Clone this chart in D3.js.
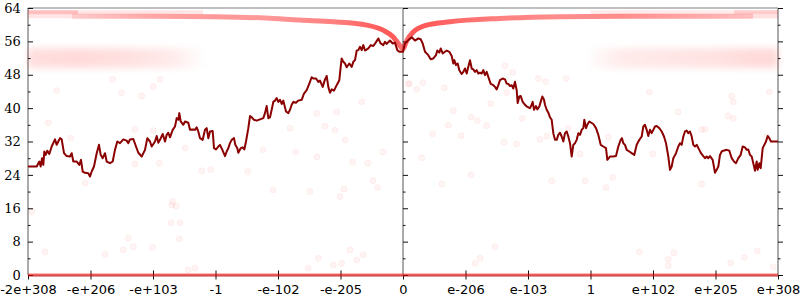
<!DOCTYPE html>
<html>
<head>
<meta charset="utf-8">
<script src="https://cdn.jsdelivr.net/npm/d3@7"></script>
<style>
  body { margin: 0; background: #fff; }
  svg { display: block; }
</style>
</head>
<body>
<svg id="chart"></svg>
<script>
// x values are positions along the ordered float64 bit-pattern axis,
// in sixths of its half range: -6 = -max double, 0 = zero, 6 = +max double
const xTicks = [-6, -5, -4, -3, -2, -1, 0, 1, 2, 3, 4, 5, 6]
const xTickLabels = ['-2e+308', '-e+206', '-e+103', '-1', '-e-102', '-e-205', '0',
  'e-206', 'e-103', '1', 'e+102', 'e+205', 'e+308']
const yTicks = [0, 8, 16, 24, 32, 40, 48, 56, 64]
const yMinorTicks = [4, 12, 20, 28, 36, 44, 52, 60]

// dark red walk
const walkX = [-6.000, -5.861, -5.819, -5.797, -5.776, -5.755, -5.739, -5.717, -5.691, -5.659,
  -5.621, -5.568, -5.541, -5.515, -5.488, -5.461, -5.424, -5.381, -5.328, -5.301,
  -5.275, -5.221, -5.179, -5.152, -5.125, -5.088, -5.035, -5.008, -4.981, -4.944,
  -4.901, -4.864, -4.837, -4.805, -4.768, -4.741, -4.688, -4.645, -4.608, -4.571,
  -4.528, -4.475, -4.421, -4.395, -4.368, -4.315, -4.272, -4.235, -4.181, -4.128,
  -4.091, -4.048, -4.021, -3.968, -3.941, -3.915, -3.888, -3.845, -3.808, -3.781,
  -3.755, -3.728, -3.685, -3.648, -3.621, -3.595, -3.579, -3.557, -3.515, -3.488,
  -3.435, -3.408, -3.365, -3.328, -3.301, -3.275, -3.248, -3.205, -3.168, -3.141,
  -3.115, -3.088, -3.045, -3.024, -2.992, -2.955, -2.928, -2.885, -2.848, -2.821,
  -2.795, -2.768, -2.741, -2.704, -2.683, -2.651, -2.635, -2.597, -2.565, -2.539,
  -2.512, -2.475, -2.448, -2.421, -2.384, -2.341, -2.288, -2.235, -2.208, -2.181,
  -2.155, -2.128, -2.101, -2.075, -2.048, -2.021, -1.995, -1.968, -1.941, -1.915,
  -1.872, -1.835, -1.808, -1.781, -1.755, -1.712, -1.675, -1.621, -1.584, -1.541,
  -1.499, -1.461, -1.435, -1.392, -1.355, -1.328, -1.285, -1.248, -1.221, -1.195,
  -1.168, -1.141, -1.104, -1.061, -1.019, -0.997, -0.981, -0.955, -0.928, -0.901,
  -0.859, -0.821, -0.795, -0.768, -0.741, -0.715, -0.688, -0.661, -0.635, -0.608,
  -0.555, -0.517, -0.475, -0.437, -0.395, -0.357, -0.315, -0.288, -0.261, -0.208,
  -0.165, -0.128, -0.091, -0.059, 0.000, 0.032, 0.085, 0.139, 0.192, 0.245,
  0.283, 0.315, 0.352, 0.405, 0.443, 0.485, 0.528, 0.549, 0.581, 0.603,
  0.635, 0.672, 0.699, 0.741, 0.779, 0.805, 0.821, 0.848, 0.875, 0.901,
  0.939, 0.965, 0.992, 1.019, 1.045, 1.072, 1.099, 1.125, 1.152, 1.179,
  1.205, 1.232, 1.259, 1.285, 1.312, 1.339, 1.365, 1.403, 1.445, 1.472,
  1.499, 1.525, 1.552, 1.595, 1.632, 1.659, 1.685, 1.712, 1.739, 1.765,
  1.792, 1.819, 1.835, 1.861, 1.883, 1.915, 1.952, 1.979, 2.005, 2.032,
  2.059, 2.075, 2.096, 2.128, 2.149, 2.181, 2.203, 2.229, 2.256, 2.272,
  2.299, 2.325, 2.352, 2.379, 2.405, 2.432, 2.459, 2.485, 2.512, 2.539,
  2.565, 2.592, 2.619, 2.645, 2.672, 2.699, 2.725, 2.752, 2.779, 2.805,
  2.832, 2.859, 2.885, 2.901, 2.928, 2.949, 2.981, 3.045, 3.088, 3.125,
  3.163, 3.205, 3.248, 3.269, 3.312, 3.365, 3.408, 3.445, 3.483, 3.504,
  3.525, 3.552, 3.579, 3.621, 3.659, 3.701, 3.739, 3.781, 3.819, 3.845,
  3.872, 3.899, 3.925, 3.952, 3.979, 4.005, 4.032, 4.059, 4.101, 4.139,
  4.176, 4.208, 4.245, 4.272, 4.299, 4.325, 4.368, 4.405, 4.432, 4.459,
  4.485, 4.512, 4.539, 4.565, 4.592, 4.619, 4.645, 4.672, 4.699, 4.741,
  4.768, 4.805, 4.832, 4.859, 4.885, 4.912, 4.955, 4.992, 5.019, 5.045,
  5.072, 5.099, 5.125, 5.179, 5.221, 5.259, 5.296, 5.328, 5.365, 5.403,
  5.435, 5.472, 5.499, 5.525, 5.552, 5.579, 5.605, 5.632, 5.659, 5.675,
  5.701, 5.723, 5.755, 5.781, 5.808, 5.835, 5.861, 5.888, 5.925, 6.000]
const walkY = [26.0, 26.0, 27.2, 26.0, 28.0, 26.4, 29.6, 28.8, 29.8, 29.0,
  30.8, 32.5, 31.2, 32.0, 32.8, 32.5, 29.2, 28.5, 28.4, 29.2,
  27.2, 27.2, 26.4, 27.6, 24.8, 24.5, 24.4, 23.6, 24.8, 26.0,
  29.2, 31.2, 28.8, 28.0, 29.2, 27.2, 26.8, 27.2, 30.0, 32.0,
  31.6, 32.5, 32.2, 31.6, 32.5, 32.6, 30.8, 29.3, 28.4, 30.0,
  32.8, 32.0, 30.8, 32.0, 33.3, 31.7, 32.4, 33.8, 32.0, 33.6,
  34.1, 33.0, 34.8, 35.6, 37.6, 37.2, 38.8, 36.8, 36.0, 36.8,
  36.5, 34.8, 34.9, 34.8, 35.4, 34.4, 32.8, 32.4, 34.8, 35.2,
  32.8, 34.4, 34.5, 30.4, 30.1, 30.8, 31.2, 29.8, 28.5, 29.6,
  30.4, 31.6, 32.4, 32.8, 31.2, 30.4, 29.3, 30.4, 30.6, 30.1,
  32.0, 35.2, 38.1, 37.8, 37.2, 37.0, 37.3, 37.6, 38.8, 40.5,
  37.6, 37.8, 39.6, 41.5, 41.8, 42.4, 41.5, 42.0, 41.0, 41.8,
  39.2, 38.8, 39.6, 40.8, 41.5, 41.3, 41.8, 42.0, 43.5, 44.3,
  45.9, 47.4, 47.1, 47.1, 46.3, 46.6, 45.1, 46.9, 47.7, 45.1,
  43.7, 44.5, 44.2, 45.5, 46.7, 49.9, 51.9, 51.1, 50.7, 49.8,
  50.7, 49.9, 51.1, 51.5, 53.8, 53.9, 54.7, 53.9, 55.1, 53.8,
  54.3, 55.1, 54.9, 55.7, 56.7, 55.5, 55.1, 55.9, 55.4, 56.2,
  55.5, 55.7, 53.9, 53.5, 53.5, 55.5, 56.3, 57.0, 56.2, 56.7,
  56.5, 55.5, 53.5, 52.7, 51.7, 51.9, 52.7, 53.8, 53.3, 54.3,
  53.1, 53.5, 53.8, 53.5, 52.5, 50.7, 51.5, 50.3, 50.7, 49.1,
  48.2, 48.7, 49.5, 48.3, 49.9, 51.5, 49.5, 49.3, 48.7, 49.1,
  48.3, 48.5, 48.3, 49.1, 47.9, 48.7, 47.5, 45.8, 45.5, 45.1,
  44.5, 45.5, 46.7, 47.1, 46.9, 45.9, 45.8, 45.3, 45.5, 44.7,
  46.3, 44.3, 41.2, 42.8, 42.9, 41.5, 40.8, 40.4, 40.2, 40.0,
  40.8, 41.5, 39.6, 40.5, 39.7, 40.4, 41.5, 42.8, 42.0, 40.8,
  39.6, 38.9, 37.8, 37.2, 34.0, 32.4, 32.4, 33.6, 34.1, 33.2,
  32.0, 34.0, 34.4, 33.2, 31.6, 28.4, 31.2, 31.6, 32.4, 34.0,
  33.6, 34.8, 35.2, 37.2, 35.2, 36.0, 36.8, 36.2, 35.2, 33.6,
  31.2, 30.8, 30.4, 27.6, 28.4, 28.4, 28.5, 30.8, 32.4, 32.8,
  31.6, 31.2, 30.0, 29.6, 29.2, 28.8, 31.2, 32.4, 33.2, 35.6,
  36.0, 34.8, 33.3, 34.8, 34.0, 34.8, 35.6, 35.7, 35.2, 34.4,
  33.2, 31.6, 28.4, 25.2, 26.0, 28.0, 29.2, 30.8, 31.6, 31.2,
  33.2, 34.4, 34.6, 34.0, 34.4, 33.2, 31.2, 30.8, 31.2, 30.0,
  29.2, 28.5, 28.0, 28.4, 28.0, 28.5, 27.6, 24.5, 25.2, 26.0,
  28.8, 29.6, 29.8, 30.0, 29.8, 28.0, 27.2, 26.8, 28.0, 28.8,
  30.8, 30.6, 30.0, 30.1, 28.8, 28.4, 26.8, 25.0, 27.2, 25.2,
  26.8, 25.6, 30.4, 31.2, 32.0, 33.3, 32.8, 32.0, 32.0, 32.0]

// dense red ridge near the top, with its point density along x
const ridgeX = [-5.3, -4, -3, -2.2, -1.65, -1.12, -0.58, -0.32, -0.16, -0.08,
  -0.02, 0, 0.064, 0.16, 0.38, 0.75, 1.55, 2.5, 3.5, 5.6]
const ridgeY = [62.0, 62.0, 61.9, 61.6, 61.1, 60.7, 59.9, 58.7, 57.1, 55.6,
  54.4, 54.2, 56.3, 58.2, 59.9, 60.7, 61.5, 61.9, 62.0, 62.0]
const ridgeDensity = [0.2, 0.35, 0.4, 0.4, 0.45, 0.5, 0.6, 0.65, 0.65, 0.6,
  0.55, 0.55, 0.6, 0.65, 0.65, 0.6, 0.5, 0.45, 0.45, 0.25]

// horizontal rows of overlapping points
const rowY = [63, 63, 62, 63, 63, 62, 0]
const rowFrom = [-6, -5.2, -6, 3.0, 5.3, 5.6, -6]
const rowTo = [-5.2, -3.2, -5.3, 5.3, 6, 6, 6]
const rowDensity = [0.25, 0.1, 0.1, 0.08, 0.2, 0.12, 0.55]

// faint clouds around y = 52
const cloudY = 52
const cloudLeftX = [-6, -5.2, -4.4, -3.7, -3.2]
const cloudLeftDensity = [0.8, 0.9, 0.75, 0.5, 0.05]
const cloudRightX = [3.0, 3.5, 4.2, 5.0, 5.6, 6.0]
const cloudRightDensity = [0.1, 0.5, 0.6, 0.7, 0.9, 0.9]

// scattered single points
const dotX = [-1.381, -1.061, -0.661, -1.808, -1.088, -1.248, -0.928, -2.24, -1.717, -1.376,
  -0.325, -0.805, -0.565, -2.485, -0.48, -0.405, -0.944, -1.488, -2.08, -1.008, -3.077,
  0.085, 0.315, 0.219, 0.661, 1.632, 1.755, 2.165, 2.283, 2.608, 0.805, 1.088, 1.189,
  1.339, 0.725, 0.475, 0.928, 1.403, 1.659, 1.909, 1.616, 1.819, 2.192, 2.299, 2.645,
  2.832, 0.299, 1.088, 0.619, 2.379, 2.912, 0.101,
  -5.541, -5.675, -5.317, -4.645, -4.501, -4.288, -3.995, -4.181, -3.888, -3.995,
  -3.488, -3.899, -4.288, -3.221, -5.088,
  3.941, 4.405, 5.259, 5.285, 5.205, 5.285, 5.861, 4.779, 4.832, 3.995, 3.285, 3.355,
  4.779, 3.248, 5.819,
  -5.941, -5.728, -4.768, -4.395, -4.475, -4.315, -4.005, -3.701, -3.685, -3.632,
  -3.712, -3.568, -3.579, -3.328, -3.435,
  -1.355, -1.115, -0.981, -0.848, -0.741, -0.635, -1.515, 1.152, 1.232, 1.472,
  3.781, 4.245, 4.245, 4.336, 5.243, 5.461, 5.669, 5.925]
const dotY = [38.7, 39.1, 41.5, 35.2, 34.7, 35.7, 32.4, 30.0, 29.5, 28.3,
  29.5, 27.1, 26.8, 24.8, 22.6, 21.0, 20.6, 20.0, 20.4, 18.8, 25.3,
  45.9, 46.1, 44.5, 44.9, 50.1, 48.6, 47.1, 46.3, 47.1, 39.4, 37.8, 37.0,
  35.8, 35.9, 33.8, 33.4, 41.1, 43.7, 37.5, 31.8, 31.4, 32.5, 33.3, 35.1,
  29.0, 28.1, 24.0, 21.8, 22.6, 22.6, 45.8,
  44.2, 36.5, 32.8, 46.9, 43.7, 34.9, 34.6, 42.9, 46.9, 45.1,
  30.4, 26.8, 26.6, 25.0, 22.0,
  43.8, 39.1, 42.9, 41.5, 38.1, 37.5, 43.9, 34.9, 34.9, 29.0, 33.0, 23.4,
  21.8, 21.0, 33.1,
  15.2, 5.6, 5.0, 8.8, 6.0, 6.8, 6.6, 16.8, 17.6, 16.5,
  12.5, 12.5, 8.6, 1.6, 1.2,
  4.0, 2.4, 2.8, 6.0, 3.6, 4.8, 1.6, 2.8, 4.0, 6.8,
  5.6, 3.8, 2.2, 5.3, 2.9, 4.2, 5.8, 2.0]

const width = 800
const height = 300

const svg = d3.select('#chart')
  .attr('width', width)
  .attr('height', height)

const x = d3.scaleLinear().domain([-6, 6]).range([28, 778])
const y = d3.scaleLinear().domain([0, 64]).range([275, 8])

const defs = svg.append('defs')
defs.append('filter')
  .attr('id', 'blur')
  .attr('x', '-10%').attr('y', '-100%')
  .attr('width', '120%').attr('height', '300%')
  .append('feGaussianBlur')
  .attr('stdDeviation', 3.5)

function gradient(id, xs, dens, k) {
  const grad = defs.append('linearGradient')
    .attr('id', id)
    .attr('gradientUnits', 'userSpaceOnUse')
    .attr('x1', x(xs[0])).attr('x2', x(xs[xs.length - 1]))
    .attr('y1', 0).attr('y2', 0)
  grad.selectAll('stop')
    .data(xs)
    .join('stop')
      .attr('offset', d => (d - xs[0]) / (xs[xs.length - 1] - xs[0]))
      .attr('stop-color', '#ff0000')
      .attr('stop-opacity', (d, i) => dens[i] * k)
}

// -------- frame and axes --------------

svg.append('line')
  .attr('x1', x(-6)).attr('x2', x(6))
  .attr('y1', y(64)).attr('y2', y(64))
  .attr('stroke', '#aaa')
  .attr('stroke-width', 1.5)

const xAxis = d3.axisBottom(x)
  .tickValues(xTicks)
  .tickFormat((d, i) => xTickLabels[i])
  .tickSizeInner(4.5)
  .tickSizeOuter(0)
  .tickPadding(5)

// font attributes go after .call(), the axis sets its own defaults on first call
const gx = svg.append('g')
  .attr('transform', `translate(0,${y(0)})`)
  .call(xAxis)
  .attr('font-family', 'DejaVu Sans')
  .attr('font-size', 13)
gx.select('.domain').attr('stroke', '#aaa').attr('stroke-width', 2)
gx.selectAll('.tick line').attr('y1', -4.5).attr('stroke', '#111')
gx.selectAll('.tick text').attr('fill', '#000')

function yAxisAt(pos, withLabels) {
  const g = svg.append('g')
    .attr('transform', `translate(${x(pos)},0)`)
  g.append('line')
    .attr('y1', y(0)).attr('y2', y(64))
    .attr('stroke', '#aaa')
    .attr('stroke-width', 2)
  const major = d3.axisLeft(y)
    .tickValues(yTicks)
    .tickSizeInner(5)
    .tickSizeOuter(0)
    .tickPadding(2.3)
    .tickFormat(withLabels ? d3.format('d') : () => '')
  const gm = g.append('g')
    .call(major)
    .attr('font-family', 'DejaVu Serif')
    .attr('font-size', 13)
  gm.select('.domain').remove()
  gm.selectAll('.tick line').attr('x2', 5).attr('stroke', '#111')
  gm.selectAll('.tick text').attr('fill', '#000')
  const minor = d3.axisLeft(y)
    .tickValues(yMinorTicks)
    .tickSizeInner(2.5)
    .tickSizeOuter(0)
    .tickFormat(() => '')
  const gn = g.append('g').call(minor)
  gn.select('.domain').remove()
  gn.selectAll('.tick line').attr('x2', 2.5).attr('stroke', '#111')
}

yAxisAt(-6, true)
yAxisAt(0, false)
yAxisAt(6, false)

// -------- point clouds --------------

function cloud(id, xs, dens) {
  gradient(id, xs, dens, 0.16)
  svg.append('rect')
    .attr('x', x(xs[0]))
    .attr('width', x(xs[xs.length - 1]) - x(xs[0]))
    .attr('y', y(cloudY + 2.4))
    .attr('height', y(cloudY - 2.4) - y(cloudY + 2.4))
    .attr('fill', `url(#${id})`)
    .attr('filter', 'url(#blur)')
}
cloud('cloudL', cloudLeftX, cloudLeftDensity)
cloud('cloudR', cloudRightX, cloudRightDensity)

svg.append('g')
  .selectAll('circle')
  .data(dotX)
  .join('circle')
    .attr('cx', d => x(d))
    .attr('cy', (d, i) => y(dotY[i]))
    .attr('r', 3)
    .attr('fill', '#ff0000')
    .attr('fill-opacity', 0.045)
    .attr('stroke', '#ff0000')
    .attr('stroke-opacity', 0.05)

svg.append('g')
  .selectAll('line')
  .data(rowY)
  .join('line')
    .attr('x1', (d, i) => x(rowFrom[i]))
    .attr('x2', (d, i) => x(rowTo[i]))
    .attr('y1', d => y(d))
    .attr('y2', d => y(d))
    .attr('stroke', '#ff0000')
    .attr('stroke-opacity', (d, i) => rowDensity[i])
    .attr('stroke-width', d => d === 0 ? 3 : 4)

gradient('ridgeFade', ridgeX, ridgeDensity, 1)

const ridge = d3.line()
  .x(d => x(d[0]))
  .y(d => y(d[1]))
  .curve(d3.curveMonotoneX)

svg.append('path')
  .attr('d', ridge(d3.zip(ridgeX, ridgeY)))
  .attr('fill', 'none')
  .attr('stroke', 'url(#ridgeFade)')
  .attr('stroke-width', 5)

// -------- walk --------------

const walk = d3.line()
  .x(d => x(d[0]))
  .y(d => y(d[1]))

svg.append('path')
  .attr('d', walk(d3.zip(walkX, walkY)))
  .attr('fill', 'none')
  .attr('stroke', '#8b0000')
  .attr('stroke-width', 2)
  .attr('stroke-linejoin', 'round')
</script>
</body>
</html>
